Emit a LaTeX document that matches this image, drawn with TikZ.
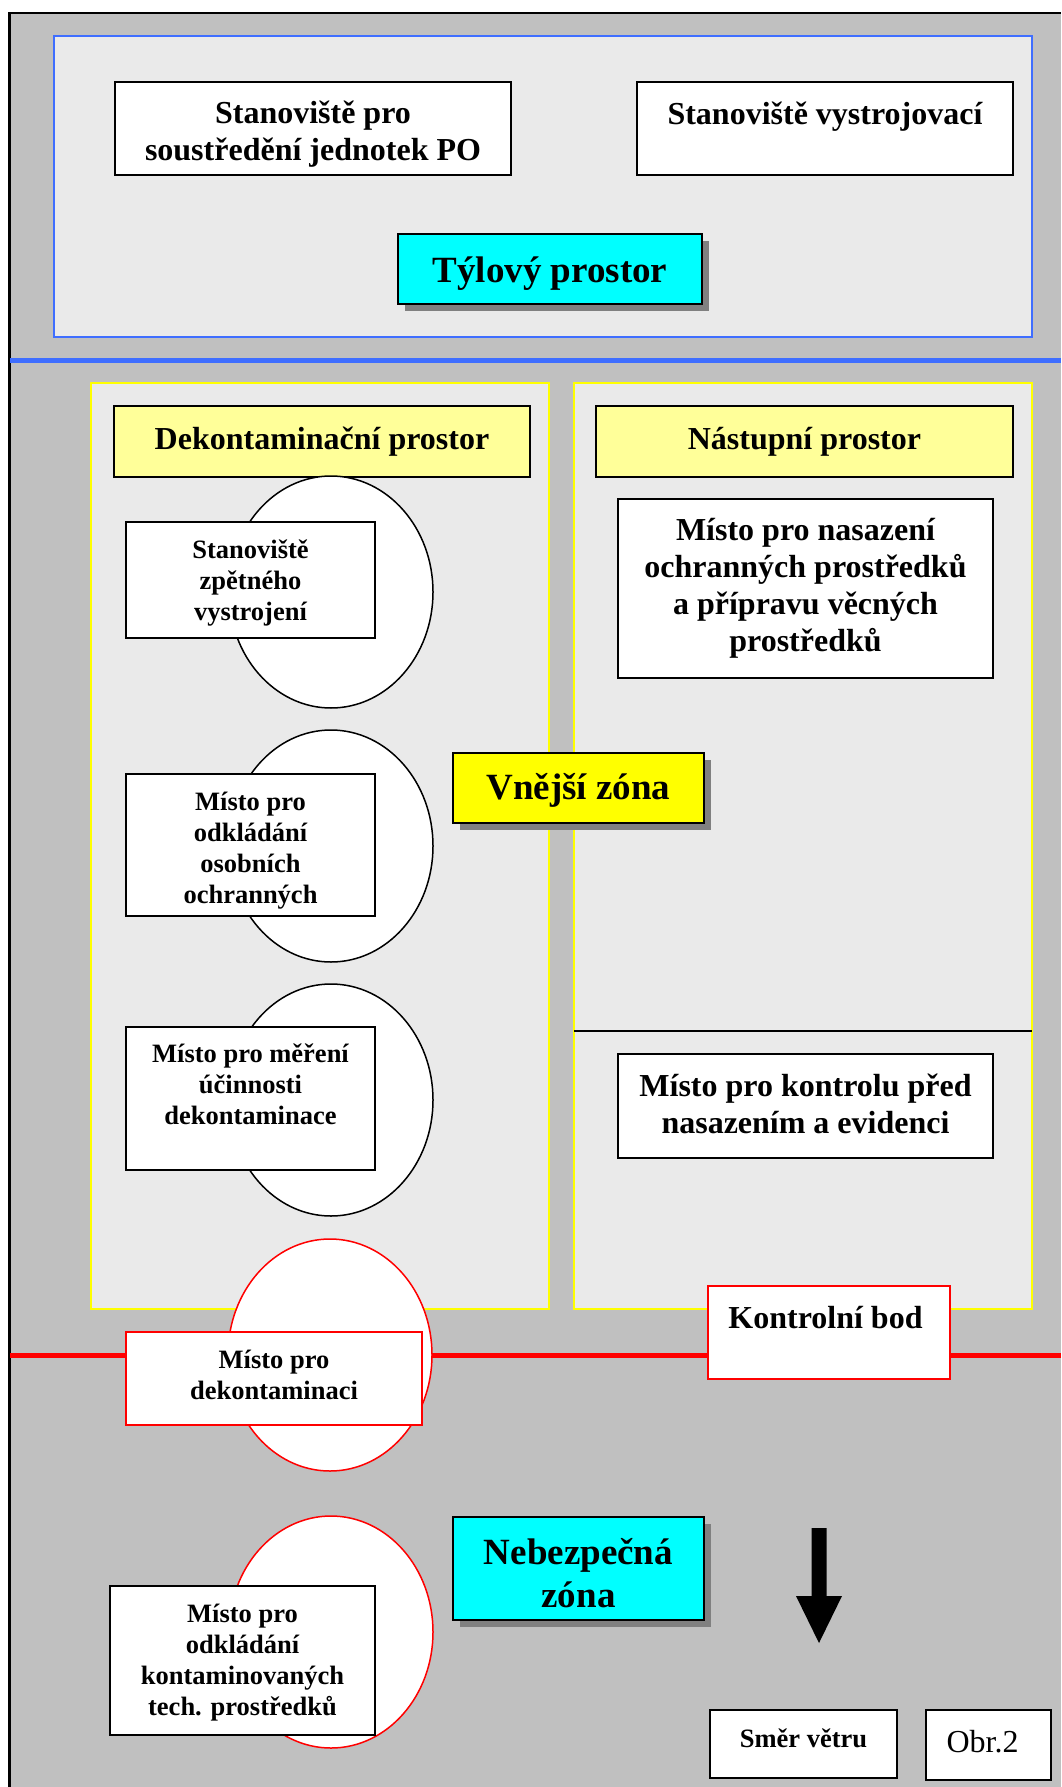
\documentclass[tikz,border=0pt]{standalone}
\usepackage{fontspec}
\setmainfont{Liberation Serif}
\usetikzlibrary{shapes.geometric}
\definecolor{bggray}{HTML}{C0C0C0}
\definecolor{panelfill}{HTML}{EAEAEA}
\definecolor{blueln}{HTML}{3F6EFF}
\definecolor{lyellow}{HTML}{FFFF99}
\definecolor{shadowgray}{HTML}{808080}
\definecolor{pyellow}{HTML}{FFFF00}
\definecolor{aqua}{HTML}{00FFFF}
\begin{document}
\begin{tikzpicture}[x=1pt,y=-1pt,
  boxk/.style={draw=black, line width=1.6pt, fill=white, inner sep=0pt},
  boxr/.style={draw=red, line width=1.6pt, fill=white, inner sep=0pt},
  fsmall/.style={font=\bfseries\fontsize{26.5}{31}\selectfont},
  fmid/.style={font=\bfseries\fontsize{32}{37}\selectfont},
  fbig/.style={font=\bfseries\fontsize{37}{43}\selectfont},
  lbl/.style={align=center, inner sep=0pt},
  shadowed/.style={preaction={draw=none, fill=shadowgray, transform canvas={xshift=7pt, yshift=-7pt}}},
  ellk/.style={ellipse, draw=black, line width=1.5pt, fill=white, minimum width=204pt, minimum height=232pt, inner sep=0pt},
  ellr/.style={ellipse, draw=red, line width=1.5pt, fill=white, minimum width=204pt, minimum height=232pt, inner sep=0pt},
  panel/.style={draw=pyellow, line width=2pt, fill=panelfill}
]
\useasboundingbox (0,0) rectangle (1061,1787);
% background
\fill[bggray] (9.5,13) rectangle (1061,1787);
\draw[line width=2.5pt] (9.5,1787) -- (9.5,13) -- (1061,13);

% rear area
\draw[draw=blueln, line width=2pt, fill=panelfill] (54,36) rectangle (1032,337);
\node[boxk, minimum width=396pt, minimum height=93pt] (soustr) at (313,128.5) {};
\node[lbl, fmid] (soustrT) at ([yshift=-6pt]soustr.center) {Stanoviště pro\\soustředění jednotek PO};
\node[boxk, minimum width=376pt, minimum height=93pt] (vystr) at (825,128.5) {};
\node[lbl, fmid] (vystrT) at (825,116.5) {Stanoviště vystrojovací};
\node[boxk, fill=aqua, shadowed, minimum width=304pt, minimum height=70pt] (tyl) at (550,269) {};
\node[lbl, fbig] (tylT) at ([yshift=-4.5pt]tyl.center) {Týlový prostor};

\draw[blueln, line width=5pt] (10,360) -- (1061,360);

% panels
\draw[panel] (91,383) rectangle (549,1309);
\draw[panel] (574,383) rectangle (1032,1309);
\node[boxk, fill=lyellow, minimum width=416pt, minimum height=71pt] (dekonH) at (322,441.5) {};
\node[lbl, fmid] (dekonHT) at (dekonH.center) {Dekontaminační prostor};
\node[boxk, fill=lyellow, minimum width=417pt, minimum height=71pt] (nastH) at (804.5,441.5) {};
\node[lbl, fmid] (nastHT) at (nastH.center) {Nástupní prostor};

% left column
\node[ellk] (e1) at (331,592) {};
\node[boxk, minimum width=249pt, minimum height=116pt] (zpet) at (250.5,580) {};
\node[lbl, fsmall] (zpetT) at ([yshift=-3.5pt]zpet.center) {Stanoviště\\zpětného\\vystrojení};
\node[ellk] (e2) at (331,846) {};
\node[boxk, minimum width=249pt, minimum height=142pt] (osob) at (250.5,845) {};
\node[lbl, fsmall] (osobT) at ([yshift=-6pt]osob.center) {Místo pro\\odkládání\\osobních\\ochranných};
\node[ellk] (e3) at (331,1100) {};
\node[boxk, minimum width=249pt, minimum height=143pt] (mer) at (250.5,1098.5) {};
\node[lbl, fsmall] (merT) at (250.5,1084.5) {Místo pro měření\\účinnosti\\dekontaminace};

% right column
\node[boxk, minimum width=375pt, minimum height=179pt] (nasaz) at (805.5,588.5) {};
\node[lbl, fmid] (nasazT) at (nasaz.center) {Místo pro nasazení\\ochranných prostředků\\a přípravu věcných\\prostředků};
\coordinate (divL) at (574,1031);
\coordinate (divR) at (1032,1031);
\draw[line width=1.5pt] (divL) -- (divR);
\node[boxk, minimum width=375pt, minimum height=104pt] (kontr) at (805.5,1106) {};
\node[lbl, fmid] (kontrT) at ([yshift=2pt]kontr.center) {Místo pro kontrolu před\\nasazením a evidenci};

\node[boxk, fill=pyellow, shadowed, minimum width=251pt, minimum height=70pt] (vnej) at (578.5,788) {};
\node[lbl, fbig] (vnejT) at ([yshift=-2.5pt]vnej.center) {Vnější zóna};

% boundary
\draw[red, line width=5pt] (10,1355) -- (1061,1355);
\node[ellr] (e4) at (330,1355) {};
\node[boxr, minimum width=296pt, minimum height=93pt] (dekon) at (274,1378.5) {};
\node[lbl, fsmall] (dekonT) at ([yshift=3.5pt]dekon.center) {Místo pro\\dekontaminaci};
\node[boxr, minimum width=242pt, minimum height=93pt] (kbod) at (829,1332.5) {};
\node[lbl, fmid] (kbodT) at (825.5,1317.5) {Kontrolní bod};

% danger zone
\node[ellr] (e5) at (331,1632) {};
\node[boxk, minimum width=265pt, minimum height=149pt] (kontam) at (242.5,1660.5) {};
\node[lbl, fsmall] (kontamT) at ([yshift=-2.5pt]kontam.center) {Místo pro\\odkládání\\kontaminovaných\\tech. prostředků};
\node[boxk, fill=aqua, shadowed, minimum width=251pt, minimum height=103pt] (nebez) at (578.5,1568.5) {};
\node[lbl, fbig] (nebezT) at ([yshift=-4.5pt]nebez.center) {Nebezpečná\\zóna};

% wind arrow
\fill[black] (811.5,1528) -- (826.5,1528) -- (826.5,1596) -- (842,1596) -- (819,1643) -- (796,1596) -- (811.5,1596) -- cycle;

\node[boxk, minimum width=187pt, minimum height=68pt] (smer) at (803.5,1744) {};
\node[lbl, fsmall] (smerT) at (803.5,1738) {Směr větru};
\node[boxk, minimum width=125pt, minimum height=70pt] (obr) at (988.5,1745) {};
\node[lbl, font=\fontsize{32}{37}\selectfont] (obrT) at ([xshift=-6pt,yshift=3.5pt]obr.center) {Obr.2};
\end{tikzpicture}
\end{document}
